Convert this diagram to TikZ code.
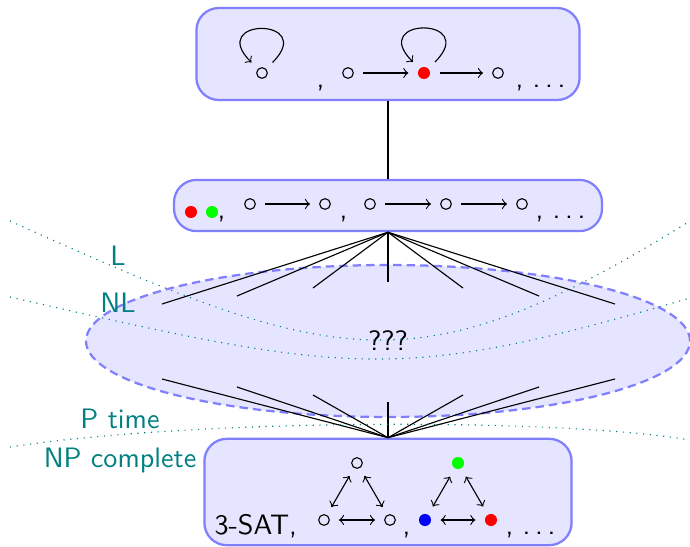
\documentclass[tikz,border=0pt]{standalone}
\usepackage{amsmath}
\usepackage{amssymb}
\usepackage{xcolor}
\usepackage{tikz}
\usetikzlibrary{shapes.geometric}

\begin{document}
\begin{tikzpicture}[font=\sffamily,
        box/.style={draw=blue!50, fill=blue!10, thick, rounded corners=0.28cm},
        vx/.style={circle, draw, inner sep=0pt, minimum size=3.8pt, outer sep=3.4pt},
        dot/.style={circle, fill=#1, inner sep=0pt, minimum size=4.3pt, outer sep=3.4pt},
        txt/.style={anchor=base west, inner sep=0pt},
        bound/.style={teal, dotted},
        cls/.style={teal}]
    \useasboundingbox (0,0) rectangle (8.625,-6.8375);
    % the three boxes and the unknown middle
    \node [box, minimum width=4.79cm, minimum height=1.15cm] (top) at (4.85,-0.675) {};
    \node [box, minimum width=5.35cm, minimum height=0.64cm] (mid) at (4.85,-2.569) {};
    \node [box, minimum width=4.59cm, minimum height=1.33cm] (bot) at (4.85,-6.15) {};
    \node [ellipse, draw=blue!50, fill=blue!10, thick, dash pattern=on 3pt off 1.8pt,
        minimum width=7.55cm, minimum height=1.9cm] (unk) at (4.85,-4.2625) {???};
    \draw (top.south) -- (mid.north);
    % fans
    \foreach \i/\x/\y in {1/2.025/3.8, 2/2.9625/3.7, 3/3.9125/3.6, 4/4.85/3.525,
            5/5.7875/3.6, 6/6.7375/3.7, 7/7.6875/3.8} {
        \coordinate (a\i) at (\x,-\y);
        \draw (mid.south) -- (a\i);
    }
    \foreach \i/\x/\y in {1/2.025/4.7375, 2/2.9625/4.8375, 3/3.9125/4.9375, 4/4.85/5.025,
            5/5.7875/4.9375, 6/6.7375/4.8375, 7/7.6875/4.7375} {
        \coordinate (b\i) at (\x,-\y);
        \draw (bot.north) -- (b\i);
    }
    % class borders
    \draw [bound] (0.125,-2.7625) .. controls (4.2125,-4.6) and (5.2,-4.8875) .. (8.625,-2.7625);
    \draw [bound] (0.125,-3.7125) .. controls (4.4375,-4.7) and (4.975,-4.7875) .. (8.625,-3.725);
    \draw [bound] (0.125,-5.5875) .. controls (2.5,-5.225) and (7,-5.225) .. (8.625,-5.5);
    \node [cls] (L) at (1.475,-3.2) {L};
    \node [cls] (NL) at (1.475,-3.79) {NL};
    \node [cls] (P) at (1.5,-5.2375) {P time};
    \node [cls] (NP) at (1.5,-5.75) {NP complete};
    % top box
    \node [vx] (t1) at (3.275,-0.9125) {};
    \draw [->] (t1) to [out=45, in=135, min distance=0.8cm] (t1);
    \node [txt] (t1c) at (3.95,-1.0875) {,};
    \node [vx] (t2) at (4.35,-0.9125) {};
    \node [dot=red] (t3) at (5.3,-0.9125) {};
    \node [vx] (t4) at (6.225,-0.9125) {};
    \node [txt] (t4c) at (6.4375,-1.0875) {, .\,.\,.};
    \draw [->] (t2) -- (t3);
    \draw [->] (t3) -- (t4);
    \draw [->] (t3) to [out=45, in=135, min distance=0.8cm] (t3);
    % middle box
    \node [dot=red] (m1) at (2.3875,-2.65) {};
    \node [dot=green] (m2) at (2.65,-2.65) {};
    \node [txt] (m2c) at (2.7125,-2.725) {,};
    \node [vx] (m3) at (3.125,-2.55) {};
    \node [vx] (m4) at (4.0625,-2.55) {};
    \node [txt] (m4c) at (4.2375,-2.725) {,};
    \node [vx] (m5) at (4.625,-2.55) {};
    \node [vx] (m6) at (5.575,-2.55) {};
    \node [vx] (m7) at (6.525,-2.55) {};
    \node [txt] (m7c) at (6.6875,-2.725) {, .\,.\,.};
    \draw [->] (m3) -- (m4);
    \draw [->] (m5) -- (m6);
    \draw [->] (m6) -- (m7);
    % bottom box
    \node [txt] (sat) at (2.675,-6.675) {3-SAT,};
    \node [vx] (p1) at (4.4625,-5.7875) {};
    \node [vx] (p2) at (4.05,-6.5) {};
    \node [vx] (p3) at (4.875,-6.5) {};
    \draw [<->] (p1) -- (p2);
    \draw [<->] (p1) -- (p3);
    \draw [<->] (p2) -- (p3);
    \node [txt] (p3c) at (5.025,-6.675) {,};
    \node [dot=green] (q1) at (5.725,-5.7875) {};
    \node [dot=blue] (q2) at (5.3125,-6.5) {};
    \node [dot=red] (q3) at (6.1375,-6.5) {};
    \draw [<->] (q1) -- (q2);
    \draw [<->] (q1) -- (q3);
    \draw [<->] (q2) -- (q3);
    \node [txt] (q3c) at (6.3125,-6.675) {, .\,.\,.};
\end{tikzpicture}
\end{document}
